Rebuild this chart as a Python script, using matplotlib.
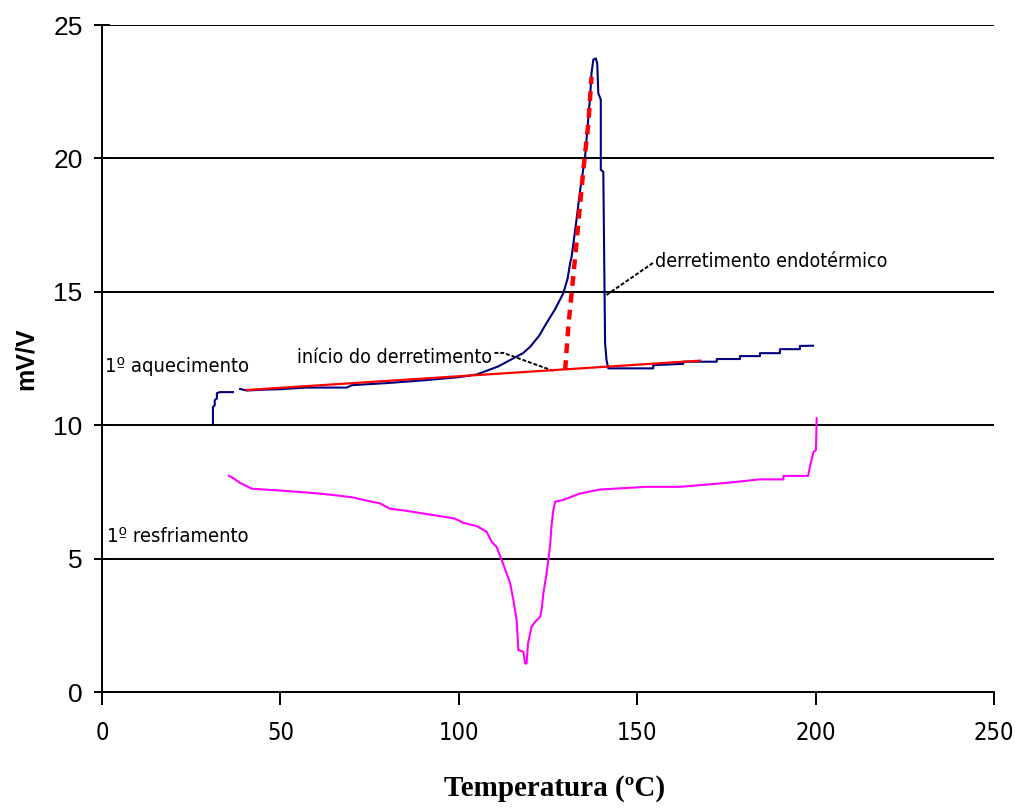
import numpy as np
import matplotlib
matplotlib.use("Agg")
import matplotlib.pyplot as plt

# 1º aquecimento (heating run), blue
heat_t = [31.1, 31.1, 31.6, 31.6, 32.2, 32.2, 33.0, 36.7, np.nan,
          38.7, 40.6, 45, 50, 57, 68.6, 70, 80, 90, 100, 105, 107.8,
          111, 115.2, 118, 120, 122.5, 124.6, 127, 129.3, 130.5, 131.2,
          131.6, 132.8, 134, 135.4, 136.1, 136.8, 137.2, 137.7, 138.4,
          138.8, 139.1, 139.8, 139.8, 140.5, 141.0, 141.4, 141.9, 154.5,
          154.5, 162.9, 163, 172.3, 172.3, 178.8, 178.8, 184.4, 184.4,
          190, 190, 195.6, 195.6, 199.3]
heat_v = [10.08, 10.68, 10.75, 10.94, 11.0, 11.2, 11.24, 11.24, np.nan,
          11.36, 11.3, 11.33, 11.35, 11.41, 11.41, 11.5, 11.58, 11.68, 11.8,
          11.9, 12.04, 12.2, 12.5, 12.7, 12.94, 13.35, 13.83, 14.35, 14.95,
          15.5, 16.07, 16.3, 17.5, 18.8, 20.06, 21.2, 22.3, 23.2, 23.7,
          23.75, 23.56, 22.44, 22.2, 19.57, 19.5, 13.07, 12.44, 12.13,
          12.13, 12.25, 12.3, 12.38, 12.38, 12.48, 12.48, 12.59, 12.59,
          12.7, 12.7, 12.85, 12.85, 12.97, 12.98]

# baseline (red) and onset tangent (red dashed)
base_t = [40.6, 167.6]
base_v = [11.32, 12.42]
tang_t = [129.8, 130.7, 132.6, 134.9, 136.3, 137.2]
tang_v = [12.07, 13.7, 16.3, 19.56, 21.3, 23.06]

# 1º resfriamento (cooling run), magenta
cool_t = [35.6, 37, 38.5, 40, 42, 50, 55, 60, 65, 70, 75, 77.9, 80.7,
          85.4, 90, 94.3, 98.9, 101.3, 105, 107.8, 109.2, 110.6, 112,
          113.4, 114.4, 115.3, 116.2, 116.7, 118.1, 118.6, 119, 119.4,
          120.4, 121.4, 122.8, 123.2, 123.7, 124.6, 125.1, 125.6, 126,
          126.5, 127, 129.3, 131.6, 134, 139.6, 152.6, 162, 170, 176,
          184.4, 191, 191, 197.9, 198.4, 199.4, 200.1, 200.3]
cool_v = [8.1, 8.0, 7.85, 7.75, 7.62, 7.55, 7.5, 7.45, 7.38, 7.3, 7.15,
          7.07, 6.87, 6.79, 6.69, 6.6, 6.5, 6.34, 6.22, 6.01, 5.63, 5.44,
          4.95, 4.45, 4.07, 3.45, 2.7, 1.57, 1.51, 1.07, 1.07, 1.82, 2.45,
          2.63, 2.82, 3.07, 3.7, 4.45, 4.95, 5.51, 6.26, 6.82, 7.13, 7.2,
          7.32, 7.44, 7.59, 7.69, 7.69, 7.78, 7.85, 7.97, 7.97, 8.1, 8.1,
          8.44, 9.0, 9.07, 10.26]

x_ticks = [0, 50, 100, 150, 200, 250]
y_ticks = [0, 5, 10, 15, 20, 25]

# narrow-looking text (the original uses Arial Narrow)
narrow = dict(family='DejaVu Sans', fontstretch='condensed')

fig = plt.figure(figsize=(10.15, 8.09), dpi=100)
ax = fig.add_axes([102 / 1015, 1 - 692 / 809, 892 / 1015, 667 / 809])

ax.set_xlim(0, 250)
ax.set_ylim(0, 25)
for v in y_ticks[1:]:
    ax.axhline(v, color='black', lw=1.4, zorder=1)

ax.plot(base_t, base_v, color='#ff0000', lw=1.6, zorder=3)
ax.plot(heat_t, heat_v, color='#000080', lw=1.5, zorder=2)
ax.plot(tang_t, tang_v, color='#ff0000', lw=3.2, ls=(0, (2.2, 1.6)), zorder=4)
ax.plot(cool_t, cool_v, color='#ff00ff', lw=1.5, zorder=2)

# leader lines
ax.plot([154.4, 141.4], [16.08, 14.88], color='black', lw=1.4, ls=(0, (2, 1)))
ax.plot([110.0, 112.5, 126.4], [12.71, 12.71, 12.04], color='black', lw=1.4, ls=(0, (2, 1)))

ax.text(155, 15.94, 'derretimento endotérmico', fontsize=14, va='baseline', **narrow)
ax.text(54.6, 12.33, 'início do derretimento', fontsize=14, va='baseline', **narrow)
ax.text(0.9, 12.0, '1º aquecimento', fontsize=14.5, va='baseline', **narrow)
ax.text(1.4, 5.63, '1º resfriamento', fontsize=14.5, va='baseline', **narrow)

ax.spines['right'].set_visible(False)
ax.spines['top'].set_visible(False)
ax.spines['left'].set_linewidth(1.4)
ax.spines['bottom'].set_linewidth(1.4)

ax.set_xticks(x_ticks)
ax.set_yticks(y_ticks)
ax.set_xticklabels([str(t) for t in x_ticks], fontsize=17, **narrow)
ax.set_yticklabels([str(t) for t in y_ticks], family='Liberation Sans', fontsize=19)
ax.tick_params(axis='y', direction='inout', length=12, width=1.4, pad=8)
ax.tick_params(axis='x', direction='out', length=9, width=1.4, pad=12)

fig.text(26 / 1015, 1 - 359 / 809, 'mV/V', rotation=90, ha='center', va='center',
         family='Liberation Sans', fontweight='bold', fontsize=18)
fig.text(555 / 1015, 1 - 789 / 809, 'Temperatura (ºC)', ha='center', va='center',
         family='Liberation Serif', fontweight='bold', fontsize=21)

fig.savefig('out.png', dpi=100)
